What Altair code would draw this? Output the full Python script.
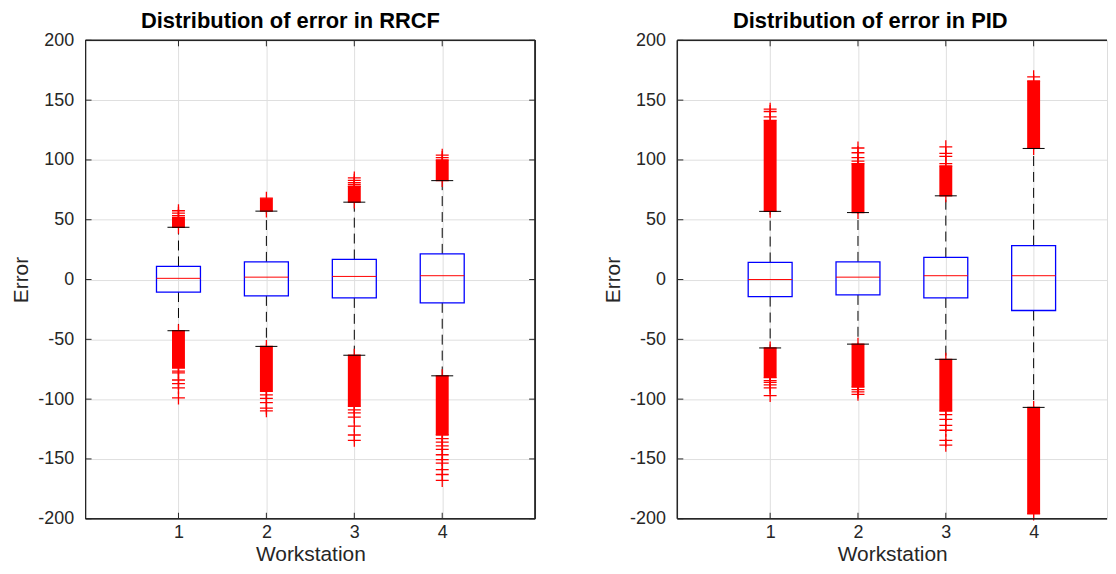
import altair as alt
import pandas as pd

# ---------------- data ----------------
workstations = [1, 2, 3, 4]
y_ticks = [-200, -150, -100, -50, 0, 50, 100, 150, 200]
y_domain = [-200, 200]

# RRCF panel
rrcf_q1 = [-10.5, -13.7, -15.4, -19.5]
rrcf_median = [1.0, 2.0, 2.6, 3.2]
rrcf_q3 = [11.0, 14.8, 16.8, 21.5]
rrcf_whisker_low = [-42.8, -55.9, -63.3, -80.5]
rrcf_whisker_high = [43.7, 57.2, 64.7, 82.7]
rrcf_packed_high_end = [52.0, 68.0, 78.0, 100.0]      # packed run of upper outliers ends here
rrcf_packed_low_end = [-74.0, -93.5, -106.0, -130.0]   # packed run of lower outliers ends here
rrcf_outliers_ws1 = [53.5, 55.5, 57.5, -76.5, -78.0, -84.0, -87.0, -90.5, -99.0]
rrcf_outliers_ws2 = [-96.5, -99.3, -103.0, -107.5, -109.8]
rrcf_outliers_ws3 = [79.5, 81.0, 83.0, 85.0, -109.0, -111.5, -115.0, -122.5, -130.0, -134.5]
rrcf_outliers_ws4 = [102.0, 104.0, -133.0, -136.0, -139.0, -142.0, -146.5, -150.5,
                     -153.5, -159.0, -163.0, -168.0]

# PID panel
pid_q1 = [-14.3, -12.9, -15.4, -25.9]
pid_median = [0.0, 2.0, 3.2, 3.2]
pid_q3 = [14.3, 14.8, 18.5, 28.4]
pid_whisker_low = [-57.2, -54.0, -66.7, -106.9]
pid_whisker_high = [57.0, 56.0, 70.0, 109.6]
pid_packed_high_end = [133.0, 97.0, 95.0, 166.0]
pid_packed_low_end = [-82.0, -90.0, -110.0, -196.0]
pid_outliers_ws1 = [136.0, 140.5, 142.5, -84.5, -86.0, -88.0, -90.5, -97.0]
pid_outliers_ws2 = [99.0, 102.0, 106.0, 110.0, -92.0, -94.0, -96.0]
pid_outliers_ws3 = [97.0, 103.0, 105.5, 111.0, -113.0, -117.0, -122.0, -126.0, -134.5, -138.5]
pid_outliers_ws4 = [169.5]

# ---------------- styling ----------------
W_FULL = 452          # width of a complete panel (x from 0 to 5)
W_RIGHT = 432         # the right panel is cut off by the picture's edge
H = 481
FONT = "Liberation Sans"
TEXT = "#262626"
GRID = "#dfdfdf"
TICK_LEN = 6
PLUS = "M-1,0L1,0M0,-1L0,1"


def build_panel(title, title_dx, width, x_max, right_edge, q1, med, q3, wlo, whi,
                packed_hi, packed_lo, outliers):
    stats = pd.DataFrame({"ws": workstations, "q1": q1, "med": med, "q3": q3,
                          "wlo": wlo, "whi": whi})
    bands = pd.DataFrame({"ws": workstations * 2,
                          "a": list(whi) + list(wlo),
                          "b": list(packed_hi) + list(packed_lo)})
    rows = []
    for w, vals in zip(workstations, outliers):
        for v in vals:
            rows.append({"ws": w, "v": v})
    for w, a, b in zip(workstations * 2, list(whi) + list(wlo), list(packed_hi) + list(packed_lo)):
        rows.append({"ws": w, "v": a})
        rows.append({"ws": w, "v": b})
    pts = pd.DataFrame(rows)

    xs = alt.Scale(domain=[0, x_max], nice=False, zero=False)
    ys = alt.Scale(domain=y_domain, nice=False, zero=False)
    xaxis = alt.Axis(values=workstations, title="Workstation", grid=True, gridColor=GRID,
                     ticks=False, tickSize=0, domain=False, labelFontSize=18, labelFont=FONT,
                     labelColor=TEXT, labelPadding=5, labelExpr="'' + datum.value",
                     titleFontSize=21, titleFont=FONT, titleFontWeight="normal",
                     titleColor=TEXT, titlePadding=2)
    yaxis = alt.Axis(values=y_ticks, title="Error", grid=True, gridColor=GRID,
                     ticks=False, tickSize=0, domain=False, labelFontSize=18, labelFont=FONT,
                     labelColor=TEXT, labelPadding=12, labelExpr="'' + datum.value",
                     titleFontSize=21, titleFont=FONT, titleFontWeight="normal",
                     titleColor=TEXT, titlePadding=6)

    def X(f):
        return alt.X(f, type="quantitative", scale=xs, axis=xaxis)

    def Y(f):
        return alt.Y(f, type="quantitative", scale=ys, axis=yaxis)

    base = alt.Chart(stats).transform_calculate(
        xl="datum.ws - 0.25", xr="datum.ws + 0.25",
        cl="datum.ws - 0.125", cr="datum.ws + 0.125")

    whisk_hi = base.mark_rule(color="black", strokeWidth=1, strokeDash=[10, 6]).encode(
        x=X("ws"), y=Y("q3"), y2="whi:Q")
    whisk_lo = base.mark_rule(color="black", strokeWidth=1, strokeDash=[10, 6]).encode(
        x=X("ws"), y=Y("q1"), y2="wlo:Q")
    cap_hi = base.mark_rule(color="black", strokeWidth=1).encode(
        x=X("cl"), x2="cr:Q", y=Y("whi"))
    cap_lo = base.mark_rule(color="black", strokeWidth=1).encode(
        x=X("cl"), x2="cr:Q", y=Y("wlo"))
    box = base.mark_rect(fillOpacity=0, stroke="#0000ff", strokeWidth=1.3).encode(
        x=X("xl"), x2="xr:Q", y=Y("q1"), y2="q3:Q")
    median = base.mark_rule(color="#ff0000", strokeWidth=1).encode(
        x=X("xl"), x2="xr:Q", y=Y("med"))
    band = alt.Chart(bands).mark_bar(size=13, color="#ff0000").encode(
        x=X("ws"), y=Y("a"), y2="b:Q")
    outl = alt.Chart(pts).mark_point(shape=PLUS, size=169, filled=False, color="#ff0000",
                                     strokeWidth=1.3, opacity=1).encode(x=X("ws"), y=Y("v"))

    yt = alt.Chart(pd.DataFrame({"t": y_ticks}))
    xt = alt.Chart(pd.DataFrame({"t": workstations}))
    layers = [
        yt.mark_rule(color=TEXT).encode(y=Y("t"), x=alt.value(0), x2=alt.value(TICK_LEN)),
        xt.mark_rule(color=TEXT).encode(x=X("t"), y=alt.value(H - TICK_LEN), y2=alt.value(H)),
        xt.mark_rule(color=TEXT).encode(x=X("t"), y=alt.value(0), y2=alt.value(TICK_LEN)),
    ]
    # frame of the axes box
    frame = [
        xt.mark_rule(color=TEXT, strokeWidth=1).encode(
            x=alt.value(0), x2=alt.value(width), y=alt.value(0)),
        xt.mark_rule(color=TEXT, strokeWidth=1).encode(
            x=alt.value(0), x2=alt.value(width), y=alt.value(H)),
        xt.mark_rule(color=TEXT, strokeWidth=1).encode(
            x=alt.value(0), y=alt.value(0), y2=alt.value(H)),
    ]
    if right_edge:
        layers.append(yt.mark_rule(color=TEXT).encode(
            y=Y("t"), x=alt.value(width - TICK_LEN), x2=alt.value(width)))
        frame.append(xt.mark_rule(color=TEXT, strokeWidth=1).encode(
            x=alt.value(width), y=alt.value(0), y2=alt.value(H)))

    layers += [whisk_hi, whisk_lo, box, median, band, outl, cap_hi, cap_lo] + frame
    return alt.layer(*layers).properties(
        width=width, height=H,
        title=alt.TitleParams(title, font=FONT, fontSize=22, fontWeight="bold",
                              color="black", anchor="middle", offset=-2, dx=title_dx))


left = build_panel("Distribution of error in RRCF", -20, W_FULL, 5, True,
                   rrcf_q1, rrcf_median, rrcf_q3,
                   rrcf_whisker_low, rrcf_whisker_high, rrcf_packed_high_end,
                   rrcf_packed_low_end,
                   [rrcf_outliers_ws1, rrcf_outliers_ws2, rrcf_outliers_ws3, rrcf_outliers_ws4])
right = build_panel("Distribution of error in PID", -22, W_RIGHT, 5 * W_RIGHT / W_FULL, False,
                    pid_q1, pid_median, pid_q3,
                    pid_whisker_low, pid_whisker_high, pid_packed_high_end,
                    pid_packed_low_end,
                    [pid_outliers_ws1, pid_outliers_ws2, pid_outliers_ws3, pid_outliers_ws4])

chart = alt.hconcat(left, right, spacing=66).properties(
    padding={"left": 2, "top": 0, "right": 0, "bottom": -2}
).configure_view(strokeOpacity=0).configure(background="white")

chart.save("out.html", embed_options={"renderer": "svg", "actions": False})
